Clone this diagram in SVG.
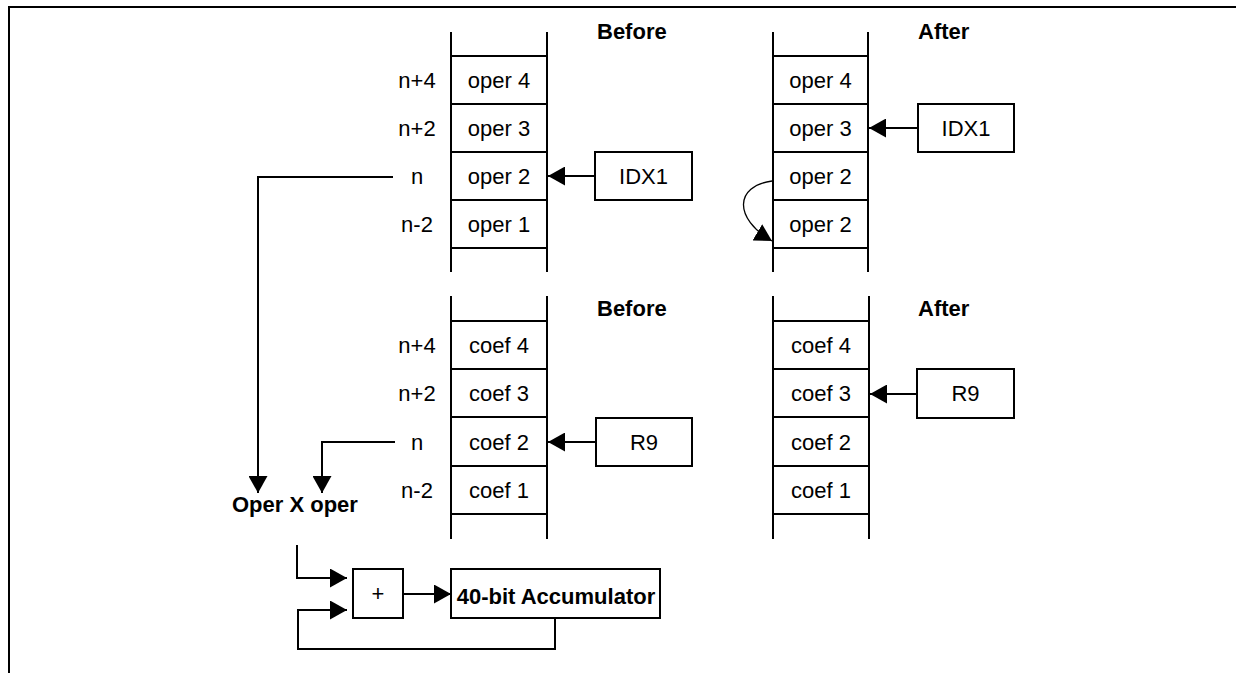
<svg xmlns="http://www.w3.org/2000/svg" width="1236" height="673" viewBox="0 0 1236 673">
<style>
.ln{stroke:#000;stroke-width:2;fill:none}
.bx{stroke:#000;stroke-width:2;fill:#fff}
.t{font-family:"Liberation Sans",Arial,sans-serif;font-size:22px;fill:#000;text-anchor:middle}
.b{font-family:"Liberation Sans",Arial,sans-serif;font-size:22px;font-weight:bold;fill:#000}
.thin{stroke:#000;stroke-width:1.3;fill:none}
</style>
<defs>
<marker id="ah" viewBox="0 0 17 19" refX="17" refY="9.5" markerWidth="17" markerHeight="19" markerUnits="userSpaceOnUse" orient="auto">
<path d="M0,0 L17,9.5 L0,19 Z" fill="#000"/>
</marker>
</defs>
<rect width="1236" height="673" fill="#fff"/>
<path class="ln" d="M9,673 V7 H1236" stroke-width="2.5"/>

<g id="oper-before">
<path class="ln" d="M451,32 V272 M547,32 V272 M451,56 H547 M451,104 H547 M451,152 H547 M451,200 H547 M451,248 H547"/>
<text class="b" x="597" y="39">Before</text>
<text class="t" x="417" y="88">n+4</text>
<text class="t" x="417" y="136">n+2</text>
<text class="t" x="417" y="184">n</text>
<text class="t" x="417" y="232">n-2</text>
<text class="t" x="499" y="88">oper 4</text>
<text class="t" x="499" y="136">oper 3</text>
<text class="t" x="499" y="184">oper 2</text>
<text class="t" x="499" y="232">oper 1</text>
</g>
<g id="idx1-before">
<rect class="bx" x="595" y="152" width="97" height="48"/>
<text class="t" x="643.5" y="184">IDX1</text>
</g>

<g id="oper-after">
<path class="ln" d="M773,32 V272 M868,32 V272 M773,56 H868 M773,104 H868 M773,152 H868 M773,200 H868 M773,248 H868"/>
<text class="b" x="918" y="39">After</text>
<text class="t" x="820.5" y="88">oper 4</text>
<text class="t" x="820.5" y="136">oper 3</text>
<text class="t" x="820.5" y="184">oper 2</text>
<text class="t" x="820.5" y="232">oper 2</text>
</g>
<g id="idx1-after">
<rect class="bx" x="918" y="104" width="96" height="48"/>
<text class="t" x="966" y="136">IDX1</text>
</g>

<g id="coef-before">
<path class="ln" d="M451,296 V539 M547,296 V539 M451,321 H547 M451,369 H547 M451,417 H547 M451,466 H547 M451,514 H547"/>
<text class="b" x="597" y="316">Before</text>
<text class="t" x="417" y="353">n+4</text>
<text class="t" x="417" y="401">n+2</text>
<text class="t" x="417" y="450">n</text>
<text class="t" x="417" y="498">n-2</text>
<text class="t" x="499" y="353">coef 4</text>
<text class="t" x="499" y="401">coef 3</text>
<text class="t" x="499" y="450">coef 2</text>
<text class="t" x="499" y="498">coef 1</text>
</g>
<g id="r9-before">
<rect class="bx" x="596" y="418" width="96" height="48"/>
<text class="t" x="644" y="450">R9</text>
</g>

<g id="coef-after">
<path class="ln" d="M773,296 V539 M869,296 V539 M773,321 H869 M773,369 H869 M773,417 H869 M773,466 H869 M773,514 H869"/>
<text class="b" x="918" y="316">After</text>
<text class="t" x="821" y="353">coef 4</text>
<text class="t" x="821" y="401">coef 3</text>
<text class="t" x="821" y="450">coef 2</text>
<text class="t" x="821" y="498">coef 1</text>
</g>
<g id="r9-after">
<rect class="bx" x="917" y="369" width="97" height="49"/>
<text class="t" x="965.5" y="401">R9</text>
</g>

<g id="product">
<text class="b" x="232" y="512">Oper X oper</text>
</g>
<g id="adder">
<rect class="bx" x="353" y="569" width="50" height="49"/>
<text class="t" x="378" y="601">+</text>
</g>
<g id="accumulator">
<rect class="bx" x="451" y="569" width="209" height="49"/>
<text class="b" x="556" y="604" text-anchor="middle">40-bit Accumulator</text>
</g>

<g id="connectors">
<path class="ln" d="M595,176 H548" marker-end="url(#ah)"/>
<path class="ln" d="M918,128 H869" marker-end="url(#ah)"/>
<path class="ln" d="M596,442 H548" marker-end="url(#ah)"/>
<path class="ln" d="M917,394 H870" marker-end="url(#ah)"/>
<path class="thin" d="M772,181 C735,186 733,218 772,241" marker-end="url(#ah)"/>
<path class="ln" d="M393,177 H258 V493" marker-end="url(#ah)"/>
<path class="ln" d="M395,442 H322 V493" marker-end="url(#ah)"/>
<path class="ln" d="M297,545 V578 H347" marker-end="url(#ah)"/>
<path class="ln" d="M555,618 V649 H298 V610 H347" marker-end="url(#ah)"/>
<path class="ln" d="M403,594 H451" marker-end="url(#ah)"/>
</g>
</svg>
